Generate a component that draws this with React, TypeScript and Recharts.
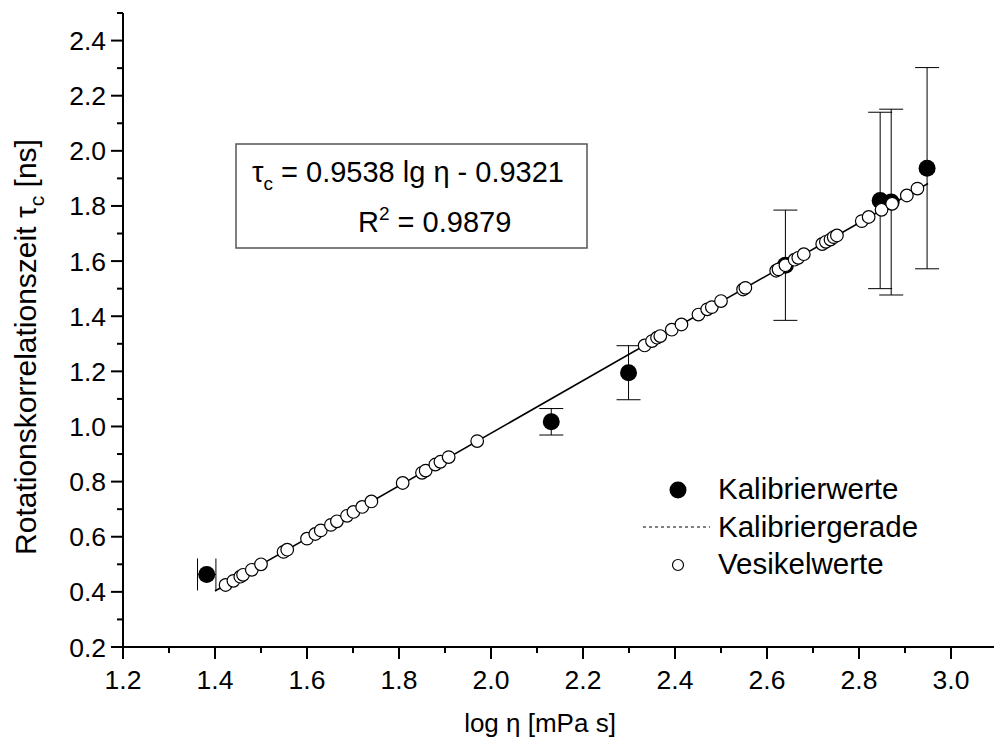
import { ComposedChart, Scatter, XAxis, YAxis, ErrorBar } from 'recharts';

// Kalibrierwerte (mit Fehlerbalken in y)
const kalibX = [2.131, 2.299, 2.64, 2.846, 2.87, 2.948];
const kalibY = [1.017, 1.195, 1.585, 1.82, 1.814, 1.937];
const kalibErr = [0.048, 0.098, 0.2, 0.32, 0.337, 0.365];

// erster Kalibrierwert hat nur einen Fehler in x
const kalibLowX = [1.382];
const kalibLowY = [0.463];
const kalibLowErr = [0.02];

// Kalibriergerade: Endpunkte
const geradeX = [1.4, 2.95];
const geradeY = [0.4032, 1.8816];

// Vesikelwerte
const vesikelX = [
    1.423, 1.44, 1.455, 1.461, 1.48, 1.5, 1.549, 1.557, 1.6, 1.618, 1.63, 1.652,
    1.665, 1.687, 1.701, 1.72, 1.74, 1.808, 1.85, 1.858, 1.879, 1.89, 1.908, 1.97,
    2.334, 2.35, 2.361, 2.368, 2.393, 2.414, 2.451, 2.47, 2.48, 2.5, 2.548, 2.553,
    2.62, 2.625, 2.64, 2.66, 2.668, 2.68, 2.72, 2.728, 2.738, 2.745, 2.752, 2.806,
    2.821, 2.849, 2.872, 2.904, 2.927,
];
const vesikelY = [
    0.425, 0.44, 0.455, 0.462, 0.48, 0.5, 0.545, 0.553, 0.593, 0.61, 0.623, 0.643,
    0.656, 0.676, 0.69, 0.708, 0.728, 0.795, 0.832, 0.84, 0.862, 0.872, 0.889, 0.947,
    1.294, 1.31, 1.322, 1.328, 1.351, 1.37, 1.406, 1.425, 1.433, 1.455, 1.497, 1.503,
    1.565, 1.57, 1.585, 1.605, 1.612, 1.625, 1.662, 1.67, 1.678, 1.687, 1.693, 1.745,
    1.76, 1.786, 1.808, 1.838, 1.863,
];

const xTicks = [1.2, 1.3, 1.4, 1.5, 1.6, 1.7, 1.8, 1.9, 2.0, 2.1, 2.2, 2.3, 2.4, 2.5, 2.6, 2.7, 2.8, 2.9, 3.0, 3.1];
const yTicks = [0.2, 0.3, 0.4, 0.5, 0.6, 0.7, 0.8, 0.9, 1.0, 1.1, 1.2, 1.3, 1.4, 1.5, 1.6, 1.7, 1.8, 1.9, 2.0, 2.1, 2.2, 2.3, 2.4, 2.5];

const kalibData = kalibX.map((x, i) => ({ x, y: kalibY[i], err: kalibErr[i] }));
const kalibLowData = kalibLowX.map((x, i) => ({ x, y: kalibLowY[i], err: kalibLowErr[i] }));
const geradeData = geradeX.map((x, i) => ({ x, y: geradeY[i] }));
const vesikelData = vesikelX.map((x, i) => ({ x, y: vesikelY[i] }));

const FONT = 'Liberation Sans, Arial, sans-serif';

const isMajor = (v: number) => Math.round(v * 10) % 2 === 0;

function XTick({ x, y, payload }: any) {
    const v = payload.value;
    const major = isMajor(v);
    return (
        <g>
            <line x1={x} x2={x} y1={y} y2={y + (major ? 12 : 6)} stroke='#000' strokeWidth={2} />
            {major && (
                <text x={x} y={y + 42} textAnchor='middle' fontSize={26.5} fontFamily={FONT} fill='#000'>
                    {v.toFixed(1)}
                </text>
            )}
        </g>
    );
}

function YTick({ x, y, payload }: any) {
    const v = payload.value;
    const major = isMajor(v);
    return (
        <g>
            <line x1={x} x2={x - (major ? 12 : 6)} y1={y} y2={y} stroke='#000' strokeWidth={2} />
            {major && (
                <text x={x - 17} y={y + 9.5} textAnchor='end' fontSize={26.5} fontFamily={FONT} fill='#000'>
                    {v.toFixed(1)}
                </text>
            )}
        </g>
    );
}

const XTitle = () => (
    <text x={540} y={732} textAnchor='middle' fontSize={26} fontFamily={FONT} fill='#000'>
        log η [mPa s]
    </text>
);

const YTitle = () => (
    <text
        x={0}
        y={0}
        transform='translate(36, 347) rotate(-90)'
        textAnchor='middle'
        fontSize={30}
        fontFamily={FONT}
        fill='#000'
    >
        Rotationskorrelationszeit τ
        <tspan fontSize={21} dy={8}>c</tspan>
        <tspan dy={-8}> [ns]</tspan>
    </text>
);

const filledDot = (p: any) => <circle cx={p.cx} cy={p.cy} r={8.5} fill='#000' />;
const openDot = (p: any) => <circle cx={p.cx} cy={p.cy} r={6.3} fill='#fff' stroke='#000' strokeWidth={1.2} />;

export default function App() {
    return (
        <div style={{ position: 'absolute', left: 0, top: 0, width: 994, height: 742, overflow: 'hidden', background: '#fff' }}>
            <ComposedChart width={1000} height={742} margin={{ top: 13, right: 3, bottom: 0, left: 0 }}>
                <XAxis
                    type='number'
                    dataKey='x'
                    domain={[1.2, 3.1]}
                    ticks={xTicks}
                    interval={0}
                    height={95}
                    tickSize={0}
                    tickMargin={0}
                    tickLine={false}
                    axisLine={{ stroke: '#000', strokeWidth: 2 }}
                    tick={<XTick />}
                    label={<XTitle />}
                />
                <YAxis
                    type='number'
                    dataKey='y'
                    domain={[0.2, 2.5]}
                    ticks={yTicks}
                    interval={0}
                    width={123}
                    tickSize={0}
                    tickMargin={0}
                    tickLine={false}
                    axisLine={{ stroke: '#000', strokeWidth: 2 }}
                    tick={<YTick />}
                    label={<YTitle />}
                />
                <Scatter
                    name='Kalibriergerade'
                    data={geradeData}
                    line={{ stroke: '#000', strokeWidth: 1.6 }}
                    shape={() => <g />}
                    isAnimationActive={false}
                />
                <Scatter name='Kalibrierwerte' data={kalibData} shape={filledDot} isAnimationActive={false}>
                    <ErrorBar dataKey='err' direction='y' width={12} stroke='#000' strokeWidth={1} />
                </Scatter>
                <Scatter name='Kalibrierwerte' data={kalibLowData} shape={filledDot} isAnimationActive={false}>
                    <ErrorBar dataKey='err' direction='x' width={16} stroke='#000' strokeWidth={1} />
                </Scatter>
                <Scatter name='Vesikelwerte' data={vesikelData} shape={openDot} isAnimationActive={false} />
            </ComposedChart>
            <svg
                width={994}
                height={742}
                style={{ position: 'absolute', left: 0, top: 0, pointerEvents: 'none' }}
                fontFamily={FONT}
            >
                <rect x={236} y={144} width={351} height={104} fill='none' stroke='#555' strokeWidth={1.5} />
                <text x={252} y={182} fontSize={29} fill='#000'>
                    τ<tspan fontSize={19} dy={8}>c</tspan>
                    <tspan dy={-8}> = 0.9538 lg η - 0.9321</tspan>
                </text>
                <text x={358} y={232} fontSize={29} fill='#000'>
                    R<tspan fontSize={19} dy={-12}>2</tspan>
                    <tspan dy={12}> = 0.9879</tspan>
                </text>

                <circle cx={678} cy={490} r={8.5} fill='#000' />
                <text x={718} y={499} fontSize={29.5} fill='#000'>Kalibrierwerte</text>
                <line x1={643} x2={710} y1={527} y2={527} stroke='#000' strokeWidth={1} strokeDasharray='3 3' />
                <text x={718} y={537} fontSize={29.5} fill='#000'>Kalibriergerade</text>
                <circle cx={678} cy={565} r={5.5} fill='#fff' stroke='#000' strokeWidth={1.2} />
                <text x={718} y={574} fontSize={29.5} fill='#000'>Vesikelwerte</text>
            </svg>
        </div>
    );
}
